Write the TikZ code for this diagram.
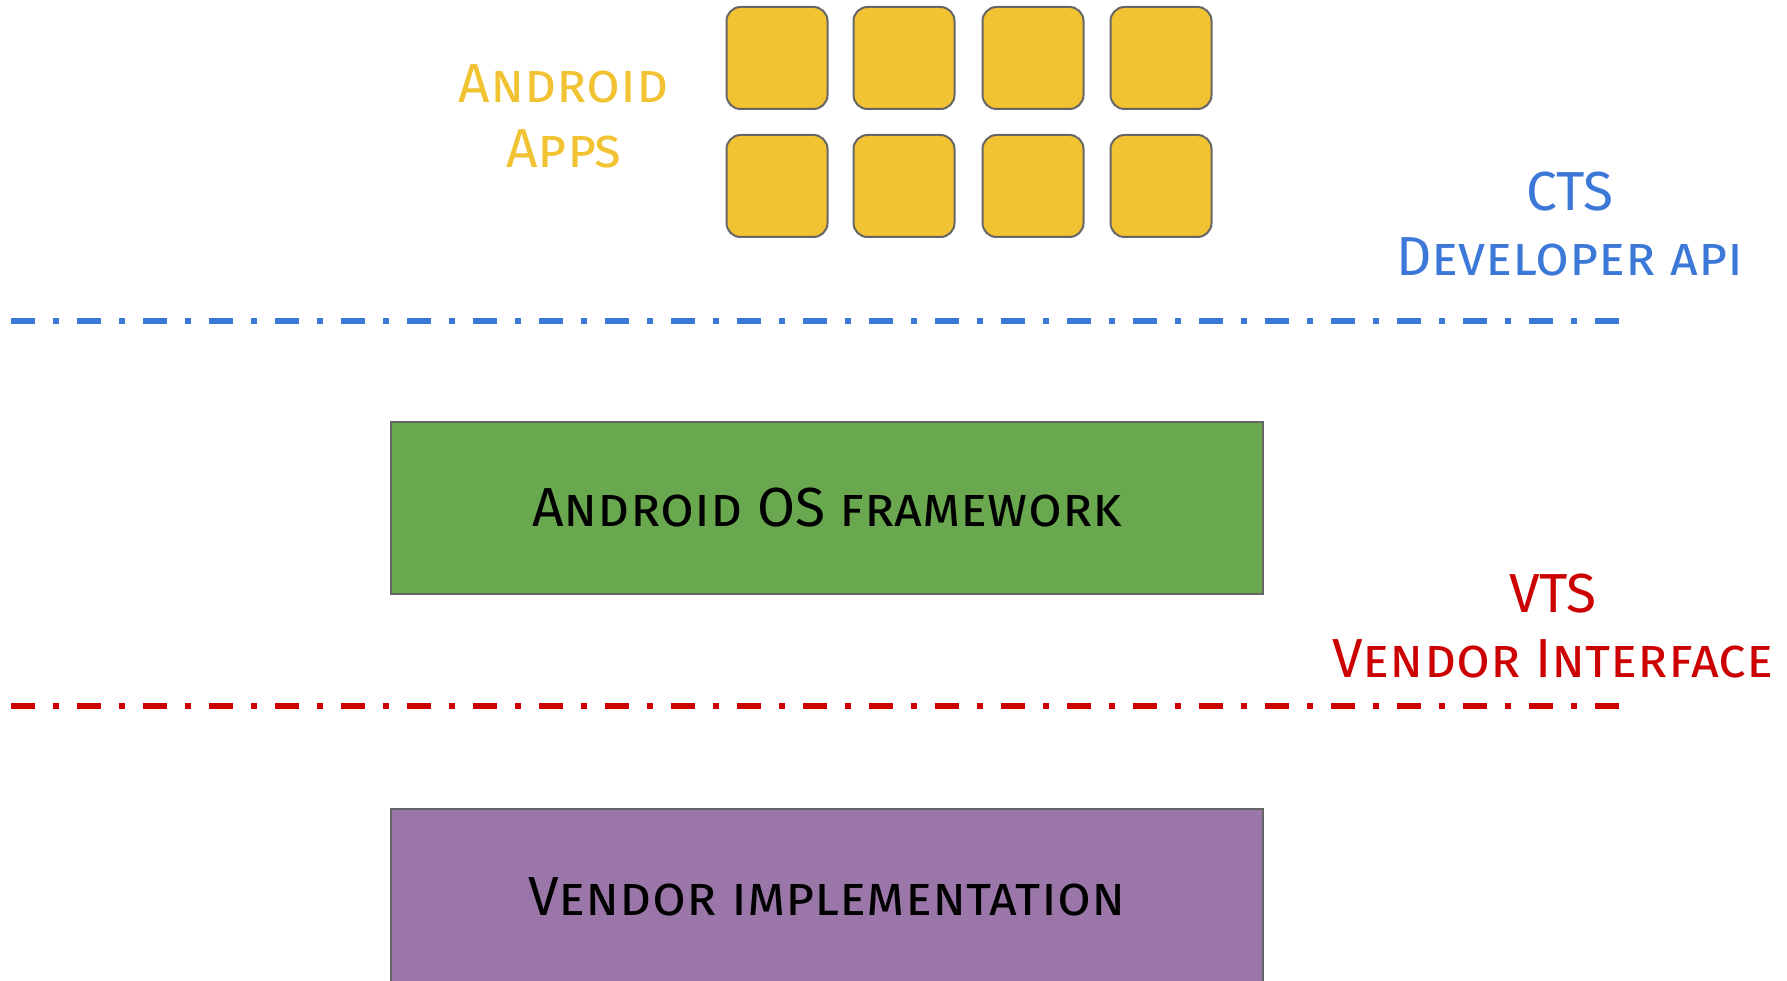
\documentclass[tikz,border=0pt]{standalone}
\usepackage{fontspec}
\setmainfont{Fira Sans}
\definecolor{appyellow}{HTML}{F1C232}
\definecolor{ctsblue}{HTML}{3C78D8}
\definecolor{vtsred}{HTML}{CC0000}
\definecolor{fwgreen}{HTML}{6AA84F}
\definecolor{vendpurple}{HTML}{9A77A8}
\definecolor{edgegray}{HTML}{666666}
\begin{document}
\begin{tikzpicture}[x=1pt,y=-1pt,
  appbox/.style={draw=edgegray,line width=2pt,fill=appyellow,rounded corners=14pt,minimum width=101pt,minimum height=102pt,inner sep=0pt},
  layerbox/.style={draw=edgegray,line width=1.5pt,minimum width=872pt,inner sep=0pt},
  boundary/.style={line width=5.5pt,dash pattern=on 24pt off 18pt on 6pt off 18pt},
  big/.style={font=\fontsize{55}{65}\selectfont\scshape}]
\useasboundingbox (0,0) rectangle (1787,981);
% app boxes
\foreach \c/\x in {1/777,2/904,3/1033,4/1161}{
  \node[appbox] (a1\c) at (\x,58) {};
  \node[appbox] (a2\c) at (\x,186) {};
}
\node[big,text=appyellow,align=center] (apps) at (564,116) {Android\\Apps};
% CTS
\node[big,text=ctsblue,align=center] (cts) at (1570,224) {CTS\\Developer api};
\coordinate (b0) at (11,321);
\coordinate (b1) at (1621,321);
\draw[boundary,ctsblue] (b0) -- (b1);
% framework
\node[layerbox,fill=fwgreen,minimum height=172pt,big] (fw) at (827,508) {Android OS framework};
% VTS
\node[big,text=vtsred,align=center] (vts) at (1553,626) {VTS\\Vendor Interface};
\coordinate (r0) at (11,706);
\coordinate (r1) at (1621,706);
\draw[boundary,vtsred] (r0) -- (r1);
% vendor
\node[layerbox,fill=vendpurple,minimum height=176pt,big] (vi) at (827,897) {Vendor implementation};
\end{tikzpicture}
\end{document}
